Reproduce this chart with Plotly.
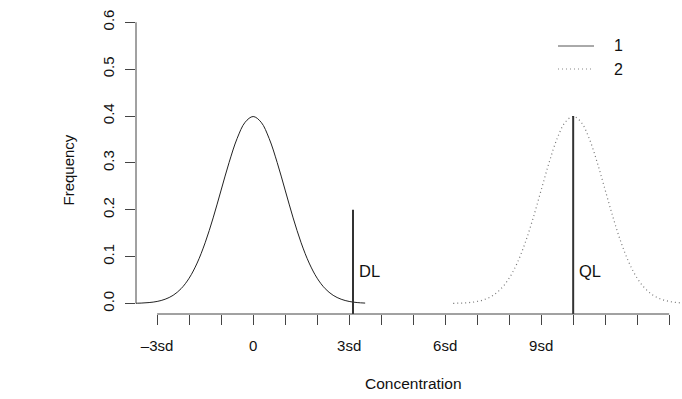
import plotly.graph_objects as go

# Density shape (offset from centre in sd, frequency)
offsets = [-3.75, -3.5, -3.25, -3.0, -2.75, -2.5, -2.25, -2.0, -1.75, -1.5, -1.25, -1.0,
           -0.75, -0.5, -0.25, 0.0, 0.25, 0.5, 0.75, 1.0, 1.25, 1.5, 1.75, 2.0, 2.25,
           2.5, 2.75, 3.0, 3.25, 3.5, 3.75]
freqs = [0.0004, 0.0009, 0.0020, 0.0044, 0.0091, 0.0175, 0.0317, 0.0540, 0.0863, 0.1295,
         0.1826, 0.2420, 0.3011, 0.3521, 0.3867, 0.3989, 0.3867, 0.3521, 0.3011, 0.2420,
         0.1826, 0.1295, 0.0863, 0.0540, 0.0317, 0.0175, 0.0091, 0.0044, 0.0020, 0.0009, 0.0004]

curve1_x = [o + 0 for o in offsets if -3.8 <= o <= 3.55]
curve1_y = [f for o, f in zip(offsets, freqs) if -3.8 <= o <= 3.55]
curve2_x = [o + 10 for o in offsets if -3.8 <= o <= 3.8]
curve2_y = [f for o, f in zip(offsets, freqs) if -3.8 <= o <= 3.8]

limit_x = [3.12, 10.0]
limit_top = [0.2, 0.4]
limit_labels = ["DL", "QL"]
label_y = 0.07

x_tickvals = list(range(-3, 14))
x_ticktext = ["\u20133sd", "", "", "0", "", "", "3sd", "", "", "6sd", "", "", "9sd", "", "", "", ""]
y_tickvals = [0.0, 0.1, 0.2, 0.3, 0.4, 0.5, 0.6]
y_ticktext = ["0.0", "0.1", "0.2", "0.3", "0.4", "0.5", "0.6"]
legend_labels = ["1", "2"]

FONT = "Liberation Sans, Arial, Helvetica, sans-serif"
AX = "#444444"

fig = go.Figure()
fig.add_trace(go.Scatter(x=curve1_x, y=curve1_y, mode="lines", line_shape="spline",
                         line=dict(color="#222222", width=1), showlegend=False))
fig.add_trace(go.Scatter(x=curve2_x, y=curve2_y, mode="lines", line_shape="spline",
                         line=dict(color="#777777", width=1.2, dash="1px,3px"), showlegend=False))
for lx, lt in zip(limit_x, limit_top):
    fig.add_trace(go.Scatter(x=[lx, lx], y=[-0.05, lt], mode="lines",
                             line=dict(color="#333333", width=2), showlegend=False))

annotations = []
for lx, lab in zip(limit_x, limit_labels):
    annotations.append(dict(x=lx, y=label_y, xref="x", yref="y", text=lab, showarrow=False,
                            xanchor="left", yanchor="middle", xshift=4,
                            font=dict(size=16.5, color="#111111", family=FONT)))
annotations.append(dict(x=0.5, y=0, xref="paper", yref="paper", text="Concentration",
                        showarrow=False, xanchor="center", yanchor="middle", yshift=-69, xshift=4,
                        font=dict(size=15.5, color="#111111", family=FONT)))
annotations.append(dict(x=0, y=0.5, xref="paper", yref="paper", text="Frequency",
                        showarrow=False, xanchor="center", yanchor="middle", xshift=-68, yshift=-8,
                        textangle=-90, font=dict(size=15, color="#111111", family=FONT)))

# legend (manual, R style)
leg_y = [46, 69]
for i, (lab, ly) in enumerate(zip(legend_labels, leg_y)):
    annotations.append(dict(x=(612 - 136) / 546, y=1 - (ly - 11) / 303, xref="paper", yref="paper",
                            text=lab, showarrow=False, xanchor="left", yanchor="middle",
                            font=dict(size=16, color="#111111", family=FONT)))

shapes = [
    dict(type="line", xref="x", yref="paper", x0=-3, x1=13, y0=0, y1=0,
         line=dict(color=AX, width=1)),
    dict(type="line", xref="paper", yref="y", x0=0, x1=0, y0=0, y1=0.6,
         line=dict(color=AX, width=1)),
    dict(type="line", xref="paper", yref="paper", x0=(558 - 136) / 546, x1=(594 - 136) / 546,
         y0=1 - (46 - 11) / 303, y1=1 - (46 - 11) / 303, line=dict(color="#555555", width=1)),
    dict(type="line", xref="paper", yref="paper", x0=(558 - 136) / 546, x1=(594 - 136) / 546,
         y0=1 - (69 - 11) / 303, y1=1 - (69 - 11) / 303,
         line=dict(color="#888888", width=1.2, dash="1px,3px")),
]

fig.update_layout(
    width=682, height=399,
    margin=dict(l=136, r=0, t=11, b=85),
    plot_bgcolor="white", paper_bgcolor="white",
    showlegend=False,
    annotations=annotations, shapes=shapes,
    xaxis=dict(range=[-3.66, 13.4], tickvals=x_tickvals, ticktext=x_ticktext,
               ticks="outside", ticklen=10, tickcolor=AX, tickwidth=1,
               showline=False, showgrid=False, zeroline=False, ticklabelstandoff=8,
               tickfont=dict(size=15, color="#111111", family=FONT)),
    yaxis=dict(range=[-0.0224, 0.624], tickvals=y_tickvals, ticktext=y_ticktext,
               ticks="outside", ticklen=10, tickcolor=AX, tickwidth=1, tickangle=-90,
               showline=False, showgrid=False, zeroline=False, ticklabelstandoff=5,
               tickfont=dict(size=15, color="#111111", family=FONT)),
)

fig.write_html("out.html")
